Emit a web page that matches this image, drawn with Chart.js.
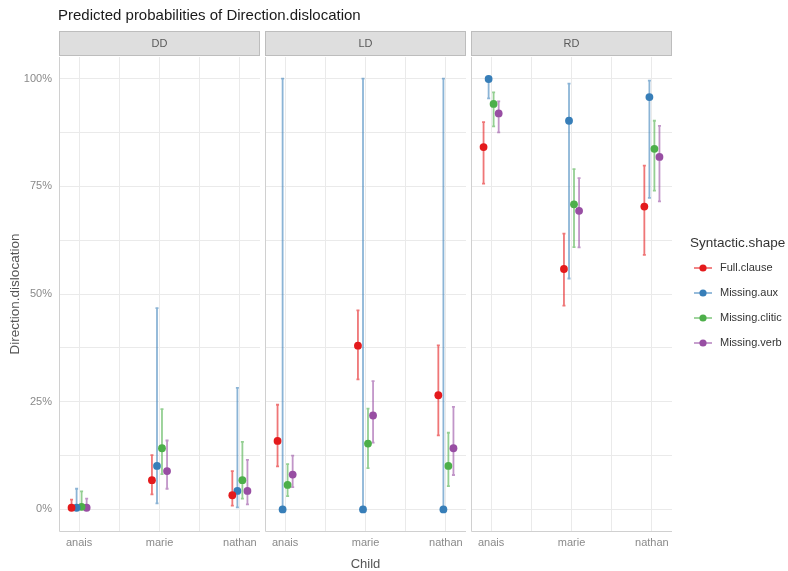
<!DOCTYPE html>
<html>
<head>
<meta charset="utf-8">
<script src="https://cdn.jsdelivr.net/npm/chart.js@4/dist/chart.umd.min.js"></script>
<style>
  html, body { margin: 0; padding: 0; background: #ffffff; }
  #wrap { position: relative; width: 788px; height: 571px; }
</style>
</head>
<body>
<div id="wrap"><canvas id="c" width="788" height="571"></canvas></div>
<script>
// ---------- data (percent) ----------
const chartTitle = 'Predicted probabilities of Direction.dislocation';
const directions = ['DD', 'LD', 'RD'];
const children = ['anais', 'marie', 'nathan'];
const shapes = ['Full.clause', 'Missing.aux', 'Missing.clitic', 'Missing.verb'];
const yTickValues = [0, 12.5, 25, 37.5, 50, 62.5, 75, 87.5, 100];
const yTickLabels = { 0: '0%', 25: '25%', 50: '50%', 75: '75%', 100: '100%' };
// order: DD anais, DD marie, DD nathan, LD anais, LD marie, LD nathan, RD anais, RD marie, RD nathan
const fullClause      = [0.4, 6.8, 3.3, 15.9, 38.0, 26.5, 84.1, 55.8, 70.3];
const fullClauseLow   = [0.0, 3.5, 0.9, 10.0, 30.2, 17.2, 75.6, 47.3, 59.1];
const fullClauseHigh  = [2.3, 12.6, 8.9, 24.3, 46.2, 38.1, 89.9, 64.0, 79.8];
const missingAux      = [0.4, 10.1, 4.3, 0.0, 0.0, 0.0, 99.9, 90.2, 95.7];
const missingAuxLow   = [0.0, 1.4, 0.5, 0.0, 0.0, 0.0, 95.4, 53.6, 72.3];
const missingAuxHigh  = [4.8, 46.7, 28.2, 100, 100, 100, 100, 98.8, 99.5];
const missingClitic     = [0.6, 14.2, 6.8, 5.7, 15.3, 10.1, 94.1, 70.8, 83.7];
const missingCliticLow  = [0.0, 8.2, 2.5, 3.1, 9.6, 5.4, 88.9, 60.9, 74.0];
const missingCliticHigh = [4.2, 23.3, 15.7, 10.5, 23.4, 17.8, 96.8, 79.0, 90.2];
const missingVerb     = [0.4, 8.9, 4.3, 8.1, 21.8, 14.2, 91.9, 69.3, 81.8];
const missingVerbLow  = [0.0, 4.8, 1.2, 5.2, 15.5, 8.0, 87.5, 60.8, 71.5];
const missingVerbHigh = [2.5, 16.0, 11.5, 12.5, 29.8, 23.8, 94.7, 76.9, 89.0];

// ---------- styling / layout ----------
const colors = ['#E41A1C', '#377EB8', '#4DAF4A', '#984EA3'];
const barColors = ['rgba(228,26,28,0.6)', 'rgba(55,126,184,0.58)', 'rgba(77,175,74,0.6)', 'rgba(152,78,163,0.6)'];
const FONT = "'Liberation Sans', Arial, sans-serif";
const PANEL_W = 2.5;          // x range 0.75 .. 3.25 inside a panel
const GAP = 0.0625;           // space between panels (x units)
const DODGE = [-0.094, -0.031, 0.031, 0.094];
const panelOffset = p => p * (PANEL_W + GAP);
const toX = (p, childIdx) => panelOffset(p) + (childIdx + 1) - 0.75;

const seriesVals = [fullClause, missingAux, missingClitic, missingVerb];
const seriesLow  = [fullClauseLow, missingAuxLow, missingCliticLow, missingVerbLow];
const seriesHigh = [fullClauseHigh, missingAuxHigh, missingCliticHigh, missingVerbHigh];

const datasets = shapes.map((name, s) => ({
  label: name,
  data: seriesVals[s].map((v, i) => {
    const p = Math.floor(i / 3), c = i % 3;
    return { x: toX(p, c) + DODGE[s], y: v, lo: seriesLow[s][i], hi: seriesHigh[s][i] };
  }),
  backgroundColor: colors[s],
  borderColor: colors[s],
  pointRadius: 3.9,
  pointHoverRadius: 3.9,
  pointBorderWidth: 0,
  showLine: false,
  errColor: barColors[s]
}));

// x ticks (major at children, minor between)
const xTickDefs = [];
directions.forEach((d, p) => {
  [1, 1.5, 2, 2.5, 3].forEach(v => {
    const lbl = Number.isInteger(v) ? children[v - 1] : '';
    xTickDefs.push({ value: panelOffset(p) + v - 0.75, label: lbl });
  });
});

const decorPlugin = {
  id: 'decor',
  beforeDatasetsDraw(chart) {
    const { ctx, chartArea: a, scales: { x, y } } = chart;
    ctx.save();
    // mask the gaps between panels
    ctx.fillStyle = '#ffffff';
    for (let p = 0; p < directions.length - 1; p++) {
      const x1 = x.getPixelForValue(panelOffset(p) + PANEL_W);
      const x2 = x.getPixelForValue(panelOffset(p + 1));
      ctx.fillRect(x1, a.top - 1, x2 - x1, a.bottom - a.top + 2);
    }
    // axis lines per panel
    ctx.strokeStyle = '#d0d0d0';
    ctx.lineWidth = 1;
    directions.forEach((d, p) => {
      const x1 = Math.round(x.getPixelForValue(panelOffset(p))) + 0.5;
      const x2 = x.getPixelForValue(panelOffset(p) + PANEL_W);
      ctx.beginPath();
      ctx.moveTo(x1, a.top);
      ctx.lineTo(x1, a.bottom + 0.5);
      ctx.lineTo(x2, a.bottom + 0.5);
      ctx.stroke();
    });
    // error bars
    chart.data.datasets.forEach(ds => {
      ctx.strokeStyle = ds.errColor;
      ctx.lineWidth = 1.8;
      ds.data.forEach(pt => {
        const px = x.getPixelForValue(pt.x);
        const yl = y.getPixelForValue(pt.lo);
        const yh = y.getPixelForValue(pt.hi);
        ctx.beginPath();
        ctx.moveTo(px, yl); ctx.lineTo(px, yh);
        ctx.moveTo(px - 1.5, yl); ctx.lineTo(px + 1.5, yl);
        ctx.moveTo(px - 1.5, yh); ctx.lineTo(px + 1.5, yh);
        ctx.stroke();
      });
    });
    ctx.restore();
  },
  afterDraw(chart) {
    const { ctx, chartArea: a, scales: { x } } = chart;
    ctx.save();
    // title
    ctx.fillStyle = '#1a1a1a';
    ctx.font = '15px ' + FONT;
    ctx.textBaseline = 'alphabetic';
    ctx.textAlign = 'left';
    ctx.fillText(chartTitle, 58, 20);
    // strips
    directions.forEach((d, p) => {
      const x1 = x.getPixelForValue(panelOffset(p));
      const x2 = x.getPixelForValue(panelOffset(p) + PANEL_W);
      ctx.fillStyle = '#dedede';
      ctx.fillRect(x1, 31, x2 - x1, 25);
      ctx.strokeStyle = '#bdbdbd';
      ctx.lineWidth = 1;
      ctx.strokeRect(Math.round(x1) + 0.5, 31.5, Math.round(x2 - x1) - 1, 24);
      ctx.fillStyle = '#5a5a5a';
      ctx.font = '11px ' + FONT;
      ctx.textAlign = 'center';
      ctx.textBaseline = 'middle';
      ctx.fillText(d, (x1 + x2) / 2, 44);
    });
    // legend
    ctx.textAlign = 'left';
    ctx.textBaseline = 'middle';
    ctx.fillStyle = '#333333';
    ctx.font = '13.5px ' + FONT;
    ctx.fillText('Syntactic.shape', 690, 243);
    chart.data.datasets.forEach((ds, s) => {
      const cy = 268 + s * 25;
      ctx.strokeStyle = ds.errColor;
      ctx.lineWidth = 1.8;
      ctx.beginPath();
      ctx.moveTo(694, cy); ctx.lineTo(712, cy);
      ctx.stroke();
      ctx.fillStyle = colors[s];
      ctx.beginPath();
      ctx.arc(703, cy, 3.6, 0, Math.PI * 2);
      ctx.fill();
      ctx.fillStyle = '#333333';
      ctx.font = '11px ' + FONT;
      ctx.fillText(ds.label, 720, cy);
    });
    ctx.restore();
  }
};

Chart.defaults.font.family = FONT;

new Chart(document.getElementById('c'), {
  type: 'scatter',
  data: { datasets },
  plugins: [decorPlugin],
  options: {
    responsive: false,
    animation: false,
    devicePixelRatio: 1,
    layout: { padding: { top: 57, right: 116, left: 0, bottom: 0 } },
    plugins: { legend: { display: false }, tooltip: { enabled: false } },
    scales: {
      x: {
        type: 'linear',
        min: 0,
        max: panelOffset(directions.length - 1) + PANEL_W,
        afterBuildTicks: axis => { axis.ticks = xTickDefs.map(t => ({ value: t.value })); },
        afterFit: axis => { axis.height = 40; },
        grid: { color: '#eaeaea', lineWidth: 1, drawTicks: false },
        border: { display: false },
        ticks: {
          autoSkip: false, maxRotation: 0, padding: 5,
          color: '#8a8a8a', font: { size: 11 },
          callback: (value, idx) => xTickDefs[idx] ? xTickDefs[idx].label : ''
        },
        title: {
          display: true, text: 'Child', color: '#555555',
          font: { size: 13, lineHeight: 1.0 }, padding: { top: 0, bottom: 0 }
        }
      },
      y: {
        type: 'linear',
        min: -5,
        max: 105,
        afterBuildTicks: axis => { axis.ticks = yTickValues.map(v => ({ value: v })); },
        afterFit: axis => { axis.width = 59; },
        grid: { color: '#eaeaea', lineWidth: 1, drawTicks: false },
        border: { display: false },
        ticks: {
          padding: 7, color: '#8a8a8a', font: { size: 11 },
          callback: v => (yTickLabels[v] !== undefined ? yTickLabels[v] : '')
        },
        title: {
          display: true, text: 'Direction.dislocation', color: '#555555',
          font: { size: 13.5 }, padding: { top: 7, bottom: 0 }
        }
      }
    }
  }
});
</script>
</body>
</html>
